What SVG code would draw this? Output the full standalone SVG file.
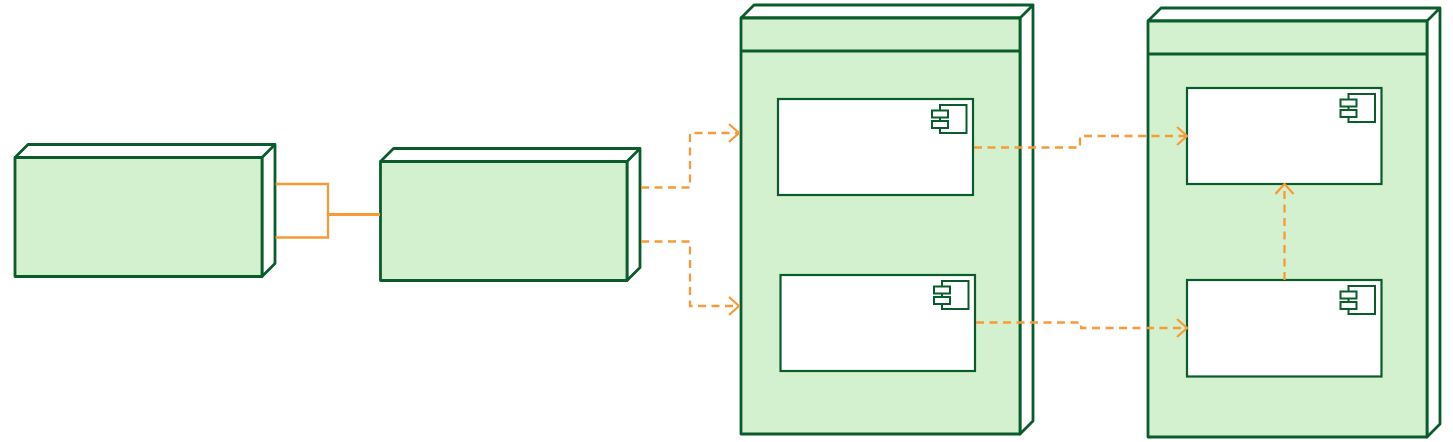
<svg xmlns="http://www.w3.org/2000/svg" width="1453" height="442" viewBox="0 0 1453 442">
<defs>
<style>
.f{fill:#d3f1ce;stroke:#0b5c2c;stroke-width:2.800;stroke-linejoin:round}
.s{fill:#fff;stroke:#0b5c2c;stroke-width:2.800;stroke-linejoin:round}
.c{fill:#fff;stroke:#0b5c2c;stroke-width:2.200}
.i{fill:#fff;stroke:#0b5c2c;stroke-width:2}
.l{fill:none;stroke:#f89a38;stroke-width:2.300}
.d{stroke-dasharray:8 5.500}
.a{fill:none;stroke:#f89a38;stroke-width:2.300}
</style>
<marker id="arr" viewBox="0 0 13 20" refX="11.500" refY="10" markerWidth="13" markerHeight="20" markerUnits="userSpaceOnUse" orient="auto"><path class="a" d="M1.500 1L11.500 10L1.500 19" stroke-linejoin="round"/></marker>
<g id="icon"><rect class="i" x="-33" y="6" width="26.500" height="28"/><rect class="i" x="-41" y="11.500" width="16" height="7"/><rect class="i" x="-41" y="22" width="16" height="7"/></g>
</defs>
<g id="node1"><path class="s" d="M15 157.500L28 144.500H275V263.500L262 276.500V157.500H15M262 157.500L275 144.500"/><rect class="f" x="15" y="157.500" width="247" height="119"/></g>
<g id="node2"><path class="s" d="M380.500 161.500L393.500 148.500H640V267.500L627 280.500V161.500H380.500M627 161.500L640 148.500"/><rect class="f" x="380.500" y="161.500" width="246.500" height="119"/></g>
<g id="node3"><path class="s" d="M741 18L754 5H1033V421L1020 434V18H741M1020 18L1033 5"/><rect class="f" x="741" y="18" width="279" height="416"/><path class="f" d="M741 51H1020"/></g>
<g id="node4"><path class="s" d="M1148 21L1161 8H1440V424L1427 437V21H1148M1427 21L1440 8"/><rect class="f" x="1148" y="21" width="279" height="416"/><path class="f" d="M1148 54H1427"/></g>
<g id="comp1"><rect class="c" x="778" y="99" width="195" height="96"/><use href="#icon" transform="translate(973 99)"/></g>
<g id="comp2"><rect class="c" x="780.500" y="275" width="194.500" height="96"/><use href="#icon" transform="translate(975 275)"/></g>
<g id="comp3"><rect class="c" x="1187" y="88" width="194.500" height="96"/><use href="#icon" transform="translate(1381.500 88)"/></g>
<g id="comp4"><rect class="c" x="1187" y="280" width="194.500" height="96.500"/><use href="#icon" transform="translate(1381.500 280)"/></g>
<g id="connectors">
<path class="l" d="M275.500 184H328V237.500H275.500"/>
<path class="l" style="stroke-width:3" d="M328 214.500H380"/>
<path class="l d" marker-end="url(#arr)" d="M641 187.500H690V133H739"/>
<path class="l d" marker-end="url(#arr)" d="M641 241.500H690V306H739"/>
<path class="l d" marker-end="url(#arr)" d="M974 147.500H1080V136H1187"/>
<path class="l d" marker-end="url(#arr)" d="M976 322.500H1081V328H1187"/>
<path class="l d" marker-end="url(#arr)" d="M1284.500 280V184"/>
</g>
</svg>
